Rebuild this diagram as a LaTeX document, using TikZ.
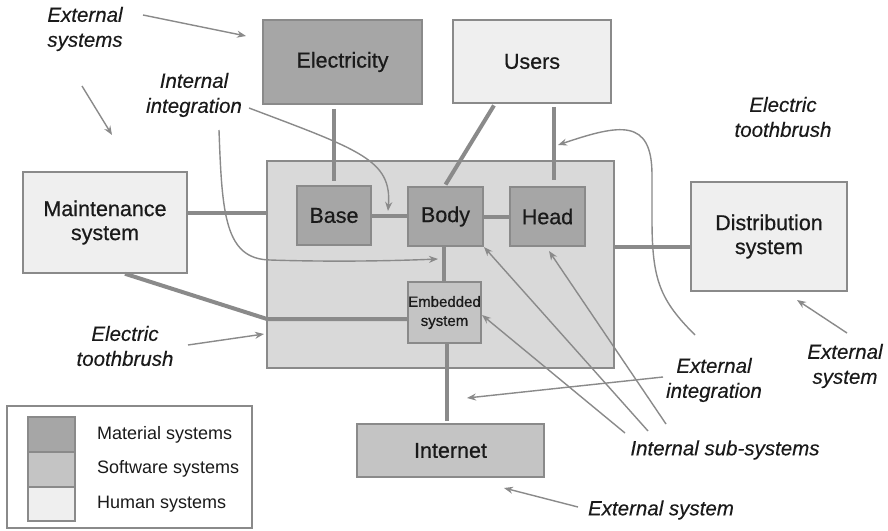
\documentclass[tikz,border=0pt]{standalone}
\usepackage{fontspec}
\setmainfont{Liberation Sans}
\newfontface\boxface{Liberation Sans}[FakeBold=0.6]
\newfontface\itface{Liberation Sans Italic}[FakeBold=0.25]
\usetikzlibrary{arrows.meta,calc}
\definecolor{matc}{HTML}{A6A6A6}
\definecolor{softc}{HTML}{C4C4C4}
\definecolor{humc}{HTML}{EFEFEF}
\definecolor{contc}{HTML}{D9D9D9}
\definecolor{edgec}{HTML}{8A8A8A}
\definecolor{txtc}{HTML}{1A1A1A}
\tikzset{
  sysbox/.style={draw=edgec, line width=1.5pt, inner sep=0pt, align=center, text=txtc,
    font=\boxface\fontsize{21.5}{24}\selectfont},
  matbox/.style={sysbox, fill=matc},
  softbox/.style={sysbox, fill=softc},
  humbox/.style={sysbox, fill=humc},
  conn/.style={draw=edgec, line width=4pt},
  arr/.style={draw=edgec, line width=1.4pt, -{Stealth[length=9pt,width=7pt]}},
  lbl/.style={align=center, text=txtc, inner sep=0pt, font=\itface\fontsize{20.5}{25}\selectfont},
  legtxt/.style={anchor=west, inner sep=0pt, text=txtc, font=\fontsize{18}{20}\selectfont},
  swatch/.style={draw=edgec, line width=1.2pt, minimum width=47pt, minimum height=35pt, inner sep=0pt},
}
\begin{document}
\begin{tikzpicture}[x=1pt,y=-1pt]
\useasboundingbox (0,0) rectangle (888,530);
\fill[white] (0,0) rectangle (888,530);

% container
\node[sysbox, fill=contc, minimum width=347pt, minimum height=207pt] (cont) at (440.5,264.5) {};

% boxes
\node[matbox, minimum width=159pt, minimum height=84pt] (elec) at (342.5,62) {Electricity};
\node[humbox, minimum width=158pt, minimum height=83pt] (users) at (532,61.5) {Users};
\node[humbox, minimum width=164pt, minimum height=101pt] (maint) at (105,222.5) {Maintenance\\system};
\node[humbox, minimum width=156pt, minimum height=109pt] (dist) at (769,236.5) {Distribution\\system};
\node[matbox, minimum width=74pt, minimum height=59pt] (base) at (334,215.5) {Base};
\node[matbox, minimum width=75pt, minimum height=59pt] (body) at (445.5,216.5) {Body};
\node[matbox, minimum width=75pt, minimum height=59pt] (head) at (547.5,216.5) {Head};
\node[softbox, minimum width=73pt, minimum height=61pt, font=\boxface\fontsize{15}{19}\selectfont] (emb) at (444.5,312.5) {Embedded\\system};
\node[softbox, minimum width=187pt, minimum height=53pt] (inet) at (450.5,450.5) {Internet};

% thick connectors
\draw[conn, shorten <=4pt, shorten >=4pt] (elec.south -| base.north) -- (base.north);
\draw[conn, shorten <=2pt, shorten >=2pt] ([xshift=-37pt]users.south) -- ([xshift=-1pt]body.north);
\draw[conn, shorten <=3pt, shorten >=6pt] ([xshift=6.5pt]head.north |- users.south) -- ([xshift=6.5pt]head.north);
\draw[conn] ([yshift=10pt]maint.east) -- ([yshift=10pt]maint.east -| cont.west);
\draw[conn] (base.east) -- (base.east -| body.west);
\draw[conn] (body.east) -- (body.east -| head.west);
\draw[conn] ([yshift=-10.5pt]dist.west) -- ([yshift=-10.5pt]dist.west -| cont.east);
\draw[conn] ([xshift=-2pt]body.south) -- ([xshift=-2pt]body.south |- emb.north);
\draw[conn, shorten >=2pt] ([xshift=2pt]emb.south) -- ([xshift=2pt]emb.south |- inet.north);
\coordinate (mj) at (267,319);
\draw[conn] ([xshift=20pt]maint.south) -- (mj) -- (mj -| emb.west);

% legend
\node[draw=edgec, line width=1.2pt, minimum width=245pt, minimum height=122pt, inner sep=0pt] (leg) at (129.5,467) {};
\node[swatch, fill=matc] (sw1) at (51.5,434.5) {};
\node[swatch, fill=softc] (sw2) at (51.5,469.5) {};
\node[swatch, fill=humc, minimum height=34pt] (sw3) at (51.5,504) {};
\node[legtxt] (t1) at (97,435) {Material systems};
\node[legtxt] (t2) at (97,469) {Software systems};
\node[legtxt] (t3) at (97,504) {Human systems};

% labels
\node[lbl] (lExtSys) at (85,29) {External\\systems};
\node[lbl] (lIntInt) at (194,95) {Internal\\integration};
\node[lbl] (lETr) at (783,117) {Electric\\toothbrush};
\node[lbl] (lETl) at (125,346) {Electric\\toothbrush};
\node[lbl] (lExtInt) at (714,380) {External\\integration};
\node[lbl] (lExtSysR) at (845,366) {External\\system};
\node[lbl] (lIntSub) at (725,450) {Internal sub-systems};
\node[lbl] (lExtSysB) at (661,510) {External system};

% thin arrows
\coordinate (a1s) at (143,15); \coordinate (a1e) at (246,36);
\draw[arr] (a1s) -- (a1e);
\coordinate (a2s) at (82,86); \coordinate (a2e) at (112,135);
\draw[arr] (a2s) -- (a2e);
\coordinate (a3s) at (249,108); \coordinate (a3e) at (388,211);
\draw[arr] (a3s) .. controls (360,150) and (392,160) .. (a3e);
\coordinate (a4s) at (219,130); \coordinate (a4e) at (438,259);
\draw[arr] (a4s) .. controls (222,215) and (225,259) .. (270,260) .. controls (330,262) and (390,261) .. (a4e);
\coordinate (a5s) at (695,335); \coordinate (a5e) at (558,145);
\draw[arr] (a5s) .. controls (660,300) and (652,280) .. (652,220) -- (652,175) .. controls (652,118) and (620,124) .. (a5e);
\coordinate (a6s) at (188,345); \coordinate (a6e) at (264,334);
\draw[arr] (a6s) -- (a6e);
\coordinate (a7s) at (625,433); \coordinate (a7e) at (482,315);
\draw[arr] (a7s) -- (a7e);
\coordinate (a8s) at (648,431); \coordinate (a8e) at (484,247);
\draw[arr] (a8s) -- (a8e);
\coordinate (a9s) at (666,424); \coordinate (a9e) at (549,251);
\draw[arr] (a9s) -- (a9e);
\coordinate (a10s) at (663,377); \coordinate (a10e) at (467,398);
\draw[arr] (a10s) -- (a10e);
\coordinate (a11s) at (847,333); \coordinate (a11e) at (797,300);
\draw[arr] (a11s) -- (a11e);
\coordinate (a12s) at (578,507); \coordinate (a12e) at (504,488);
\draw[arr] (a12s) -- (a12e);
\end{tikzpicture}
\end{document}
